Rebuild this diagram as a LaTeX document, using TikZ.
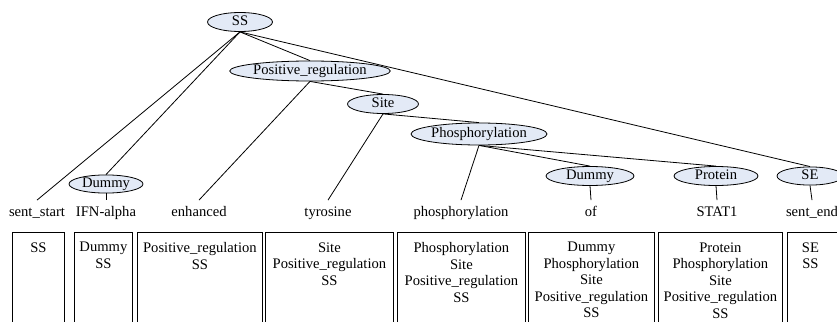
\documentclass[tikz,border=0pt]{standalone}
\usepackage{fontspec}
\setmainfont{Liberation Serif}
\usetikzlibrary{shapes.geometric}
\definecolor{ellfill}{RGB}{227,234,246}
\begin{document}
\begin{tikzpicture}[x=1pt,y=-1pt,
  font=\fontsize{14.6}{16.5}\selectfont, line width=0.8pt,
  ev/.style={ellipse, draw, fill=ellfill, inner sep=0pt, text height=9.8pt, text depth=3pt},
  word/.style={inner xsep=1pt, inner ysep=6pt, text height=10pt, text depth=3pt},
  col/.style={draw, anchor=north west, minimum height=130pt, inner sep=0pt},
  stack/.style={anchor=north, align=center, inner sep=0pt}]
\useasboundingbox (0,0) rectangle (837,321);

% event ellipses
\node[ev, minimum width=65pt, minimum height=19pt] (ss) at (240,22) {SS};
\node[ev, minimum width=150pt, minimum height=20pt] (pr) at (310,71) {Positive\_regulation};
\node[ev, minimum width=71pt, minimum height=19pt] (site) at (383,104) {Site};
\node[ev, minimum width=136pt, minimum height=22pt] (ph) at (479,134) {Phosphorylation};
\node[ev, minimum width=74pt, minimum height=16pt] (d1) at (106,184) {Dummy};
\node[ev, minimum width=88pt, minimum height=19pt] (d2) at (590,176) {Dummy};
\node[ev, minimum width=84pt, minimum height=19pt] (prot) at (716,176) {Protein};
\node[ev, minimum width=66pt, minimum height=18pt] (se) at (810,176) {SE};

% words
\node[word] (w1) at (37,213) {sent\_start};
\node[word] (w2) at (106,213) {IFN-alpha};
\node[word] (w3) at (199,213) {enhanced};
\node[word] (w4) at (328,213) {tyrosine};
\node[word] (w5) at (461,213) {phosphorylation};
\node[word] (w6) at (591,213) {of};
\node[word] (w7) at (717,213) {STAT1};
\node[word] (w8) at (812,213) {sent\_end};

% edges
\draw (ss.south) -- (w1.north);
\draw (ss.south) -- (d1.north);
\draw (ss.south) -- (pr.north);
\draw (ss.south) -- (se.north);
\draw (pr.south) -- (w3.north);
\draw (pr.south) -- (site.north);
\draw (site.south) -- (w4.north);
\draw (site.south) -- (ph.north);
\draw (ph.south) -- (w5.north);
\draw (ph.south) -- (d2.north);
\draw (ph.south) -- (prot.north);
\draw (d1.south) -- (w2.north);
\draw (d2.south) -- (w6.north);
\draw (prot.south) -- (w7.north);
\draw (se.south) -- (w8.north);

% stack boxes
\node[col, minimum width=52pt] (b1) at (12,232) {};
\node[col, minimum width=58pt] (b2) at (74,232) {};
\node[col, minimum width=125pt] (b3) at (137,232) {};
\node[col, minimum width=128pt] (b4) at (265,232) {};
\node[col, minimum width=128pt] (b5) at (397,232) {};
\node[col, minimum width=126pt] (b6) at (528,232) {};
\node[col, minimum width=124pt] (b7) at (658,232) {};
\node[col, minimum width=70pt] (b8) at (787,232) {};

\node[stack] (t1) at ([yshift=-10pt]b1.north) {SS};
\node[stack] (t2) at ([yshift=-10pt]b2.north) {Dummy\\SS};
\node[stack] (t3) at ([yshift=-10pt]b3.north) {Positive\_regulation\\SS};
\node[stack] (t4) at ([yshift=-10pt]b4.north) {Site\\Positive\_regulation\\SS};
\node[stack] (t5) at ([yshift=-10pt]b5.north) {Phosphorylation\\Site\\Positive\_regulation\\SS};
\node[stack] (t6) at ([yshift=-10pt]b6.north) {Dummy\\Phosphorylation\\Site\\Positive\_regulation\\SS};
\node[stack] (t7) at ([yshift=-10pt]b7.north) {Protein\\Phosphorylation\\Site\\Positive\_regulation\\SS};
\node[stack] (t8) at ([yshift=-10pt,xshift=-12pt]b8.north) {SE\\SS};
\end{tikzpicture}
\end{document}
